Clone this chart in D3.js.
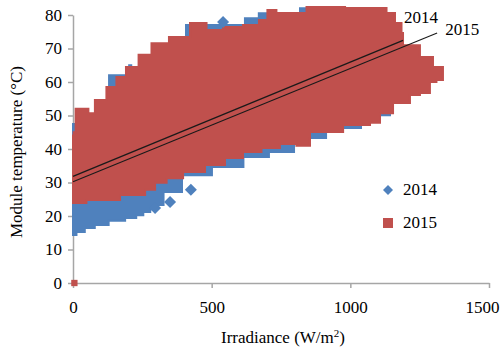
<!DOCTYPE html>
<html>
<head>
<meta charset="utf-8">
<script src="https://cdn.jsdelivr.net/npm/d3@7"></script>
<style>
  body { margin: 0; background: #fff; }
  svg, svg text { font-family: "Liberation Serif", "Liberation Sans Narrow", "Liberation Sans", Arial, sans-serif; }
</style>
</head>
<body>
<div id="chart"></div>
<script>
// values
const xTicks = [0, 500, 1000, 1500];
const yTicks = [0, 10, 20, 30, 40, 50, 60, 70, 80];
const seriesNames = ["2014", "2015"];

// outline of the 2015 point cloud (clockwise), irradiance / temperature
const cloud2015X = [0, 5, 14, 50, 61, 97, 144, 169, 213, 260, 306, 386, 458, 505, 577, 649, 692, 710, 757, 927, 1035, 1118, 1143, 1179, 1190,
  1190, 1251, 1251, 1298, 1298, 1334, 1334, 1287, 1287, 1215, 1215, 1154, 1154, 1107, 1107, 1035, 974, 974, 880, 829, 782, 710, 649, 577, 519, 433, 361, 314, 278, 242, 97, 0];
const cloud2015Y = [44, 45, 52, 52, 50.7, 54.6, 58.5, 61.5, 64.5, 68.1, 71.6, 73.4, 77.6, 75.5, 76.4, 77, 78.5, 81.5, 80.6, 82.4, 82.1, 82.1, 80.6, 77.6, 74.6,
  71, 71, 67.5, 67.5, 64.5, 64.5, 60.6, 60, 56.7, 56.1, 53.7, 53.7, 50.7, 50.7, 47.8, 47.2, 47.2, 45.1, 45.1, 41, 41.5, 40.3, 39.1, 37.3, 35.2, 33.1, 31.3, 29.9, 27.8, 26.3, 24.8, 23.9];

// outline of the 2014 point cloud (clockwise)
const cloud2014X = [0, 35, 60, 200, 205, 215, 600, 640, 700, 757, 880, 930, 1100, 1190,
  1190, 1179, 1107, 970, 855, 739, 674, 555, 447, 339, 314, 290, 267, 240, 216, 160, 97, 60, 25, 0];
const cloud2014Y = [47.5, 47.5, 44, 62, 65, 62, 77, 79, 80.5, 80, 82, 82, 80, 70,
  66.6, 54.6, 50.1, 46.3, 43.3, 39.1, 37.6, 34.6, 32.2, 27.2, 23.3, 22, 21.2, 20.2, 19.4, 18.6, 17.3, 16.4, 15.2, 14.3];

// isolated points
const outliers2014X = [296, 350, 425, 541];
const outliers2014Y = [22.4, 24.2, 27.8, 77.9];
const outliers2015X = [5];
const outliers2015Y = [0];

// linear trend lines: start and end
const trend2014X = [0, 1190];
const trend2014Y = [31.8, 72.4];
const trend2015X = [0, 1313];
const trend2015Y = [30.2, 74.6];

const blue = "#4F81BD", red = "#C0504D", axisColor = "#A6A6A6";

const svg = d3.select("#chart").append("svg")
  .attr("width", 500)
  .attr("height", 350);

let x = d3.scaleLinear().domain([0, 1500]).range([73, 489]);
let y = d3.scaleLinear().domain([0, 80]).range([283, 15]);

// axes
let yAxis = svg.append("g")
  .attr("transform", "translate(" + x(0) + ",0)")
  .call(d3.axisLeft(y).tickValues(yTicks).tickSize(5).tickSizeOuter(0).tickPadding(6));
let xAxis = svg.append("g")
  .attr("transform", "translate(0," + y(0) + ")")
  .call(d3.axisBottom(x).tickValues(xTicks).tickFormat(d3.format("d")).tickSize(5).tickSizeOuter(0).tickPadding(10));

[xAxis, yAxis].forEach(function (g) {
  g.attr("font-family", null).attr("font-size", null);
  g.select(".domain").attr("stroke", axisColor).attr("stroke-width", 1.5);
  g.selectAll(".tick line").attr("stroke", axisColor).attr("stroke-width", 1.5);
  g.selectAll(".tick text").style("font-size", "17px").attr("fill", "#000");
});
xAxis.selectAll(".tick text").attr("dy", "0.9em");
// last label is pulled in so it stays inside the picture
xAxis.selectAll(".tick text").filter(function (d) { return d === 1500; })
  .attr("text-anchor", "end").attr("x", 10);

function outline(xs, ys) {
  return d3.line().curve(d3.curveStep)(xs.map(function (v, i) { return [x(v), y(ys[i])]; })) + "Z";
}

// clouds
svg.append("path")
  .attr("d", outline(cloud2014X, cloud2014Y))
  .attr("fill", blue).attr("stroke", blue).attr("stroke-width", 2);
svg.append("path")
  .attr("d", outline(cloud2015X, cloud2015Y))
  .attr("fill", red).attr("stroke", red).attr("stroke-width", 2);

const diamond = d3.symbol().type(d3.symbolSquare).size(72);

svg.selectAll(".o14")
  .data(outliers2014X)
  .enter().append("path")
  .attr("d", diamond)
  .attr("fill", blue)
  .attr("transform", function (d, i) { return "translate(" + x(d) + "," + y(outliers2014Y[i]) + ") rotate(45)"; });

svg.selectAll(".o15")
  .data(outliers2015X)
  .enter().append("path")
  .attr("d", d3.symbol().type(d3.symbolSquare).size(40))
  .attr("fill", red)
  .attr("transform", function (d, i) { return "translate(" + x(d) + "," + y(outliers2015Y[i]) + ")"; });

// trend lines
const trendLine = d3.line().x(function (d) { return x(d[0]); }).y(function (d) { return y(d[1]); });
svg.append("path")
  .attr("d", trendLine(trend2014X.map(function (v, i) { return [v, trend2014Y[i]]; })))
  .attr("fill", "none").attr("stroke", "#1a1a1a").attr("stroke-width", 1.3);
svg.append("path")
  .attr("d", trendLine(trend2015X.map(function (v, i) { return [v, trend2015Y[i]]; })))
  .attr("fill", "none").attr("stroke", "#1a1a1a").attr("stroke-width", 1.1);

// trend labels
svg.append("text")
  .attr("x", x(trend2014X[1]) + 1).attr("y", 23)
  .style("font-size", "17px").text(seriesNames[0]);
svg.append("text")
  .attr("x", x(trend2015X[1]) + 8).attr("y", 35)
  .style("font-size", "17px").text(seriesNames[1]);

// legend
let legend = svg.append("g").attr("transform", "translate(388,190)");
legend.append("path")
  .attr("d", d3.symbol().type(d3.symbolSquare).size(50))
  .attr("fill", blue)
  .attr("transform", "rotate(45)");
legend.append("text").attr("x", 15).attr("y", 5).style("font-size", "17px").text(seriesNames[0]);
legend.append("path")
  .attr("d", d3.symbol().type(d3.symbolSquare).size(100))
  .attr("fill", red)
  .attr("transform", "translate(0,33)");
legend.append("text").attr("x", 15).attr("y", 38).style("font-size", "17px").text(seriesNames[1]);

// axis titles
svg.append("text")
  .attr("transform", "translate(22,152) rotate(-90)")
  .attr("text-anchor", "middle")
  .style("font-size", "17px")
  .text("Module temperature (°C)");

let xt = svg.append("text")
  .attr("x", 283).attr("y", 343)
  .attr("text-anchor", "middle")
  .style("font-size", "17px");
xt.append("tspan").text("Irradiance (W/m");
xt.append("tspan").attr("dy", -6).style("font-size", "11px").text("2");
xt.append("tspan").attr("dy", 6).text(")");
</script>
</body>
</html>
